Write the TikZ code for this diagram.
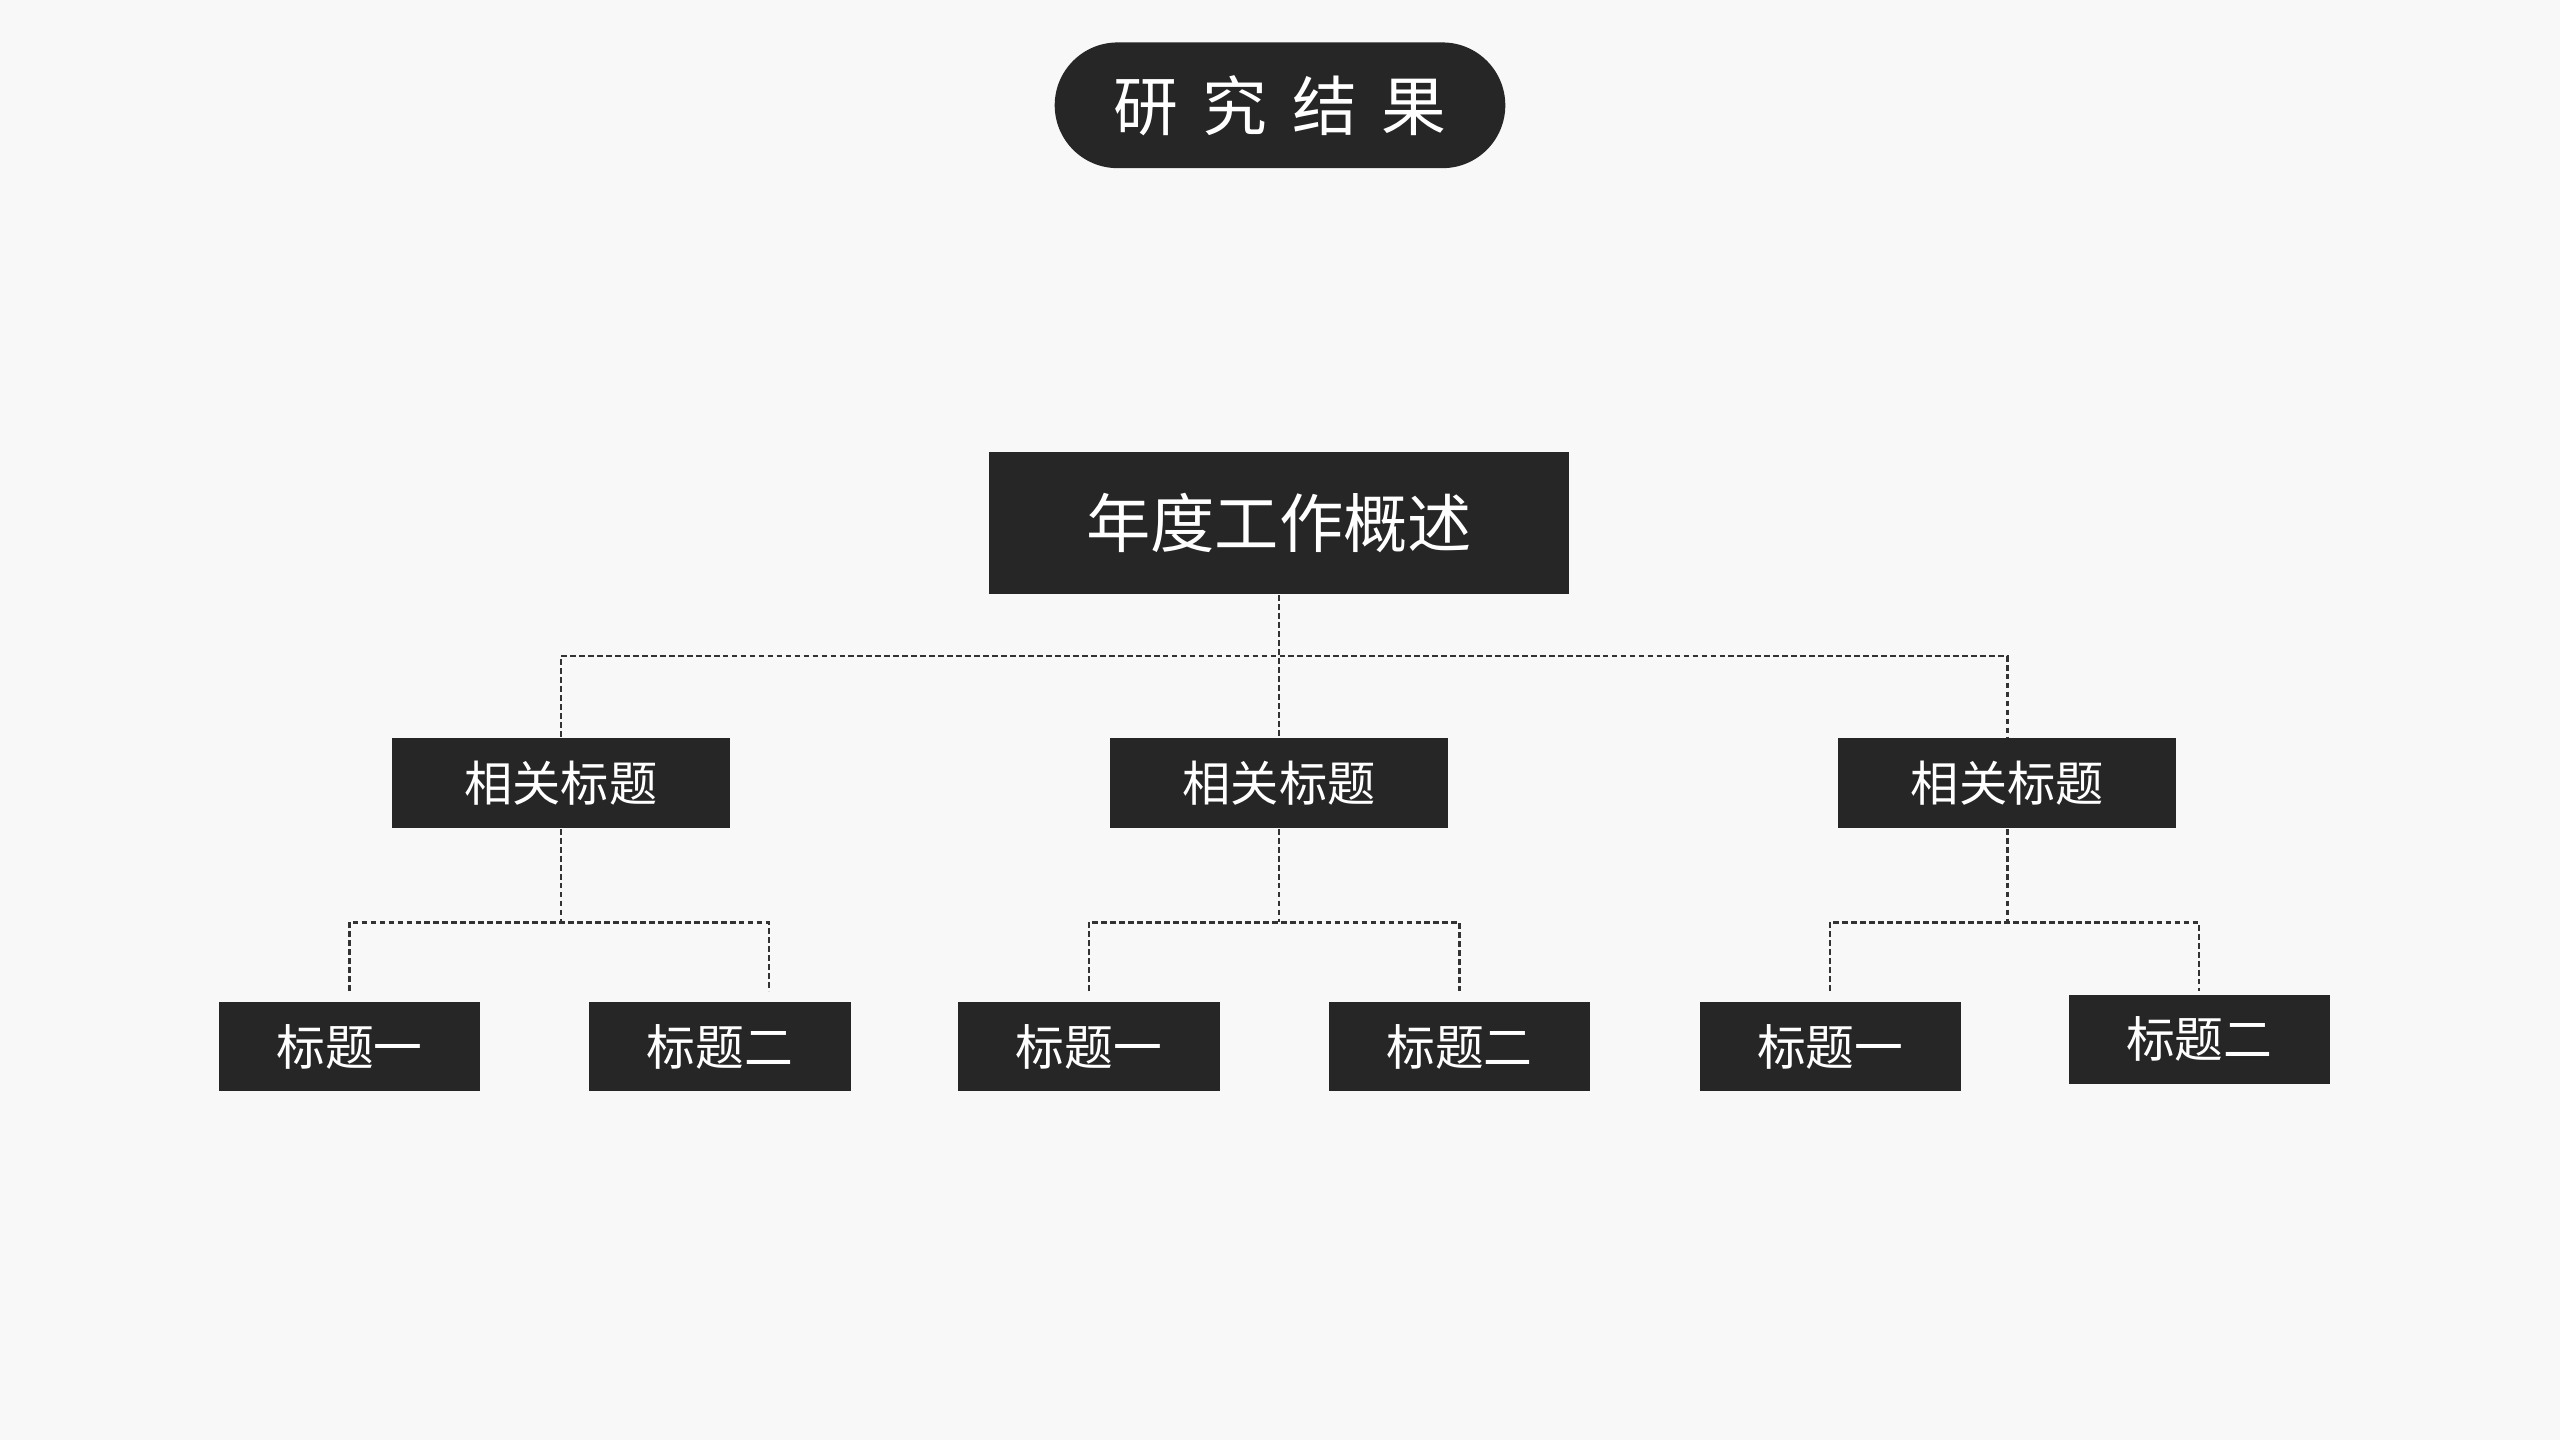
\documentclass[tikz,border=0pt]{standalone}
\usepackage{fontspec}
\newfontfamily\cjk{Noto Sans CJK SC}
\usetikzlibrary{positioning}
\definecolor{boxgray}{HTML}{262626}
\definecolor{bggray}{HTML}{F8F8F8}
\definecolor{linegray}{HTML}{333333}

\begin{document}
\begin{tikzpicture}[
            x=0.1mm,
            y=0.1mm,
            badge/.style={fill=boxgray, text=white, inner sep=0pt, minimum width=27.6mm, minimum height=7.7mm, rounded corners=3.85mm, font=\cjk\fontsize{11.3pt}{13pt}\selectfont},
            topbox/.style={fill=boxgray, text=white, inner sep=0pt, minimum width=35.5mm, minimum height=8.7mm, font=\cjk\fontsize{11.2pt}{13pt}\selectfont},
            midbox/.style={fill=boxgray, text=white, inner sep=0pt, minimum width=20.7mm, minimum height=5.5mm, font=\cjk\fontsize{8.4pt}{10pt}\selectfont},
            leafbox/.style={fill=boxgray, text=white, inner sep=0pt, minimum width=16mm, minimum height=5.45mm, font=\cjk\fontsize{8.5pt}{10pt}\selectfont},
            link/.style={draw=linegray, line width=0.4pt, dash pattern=on 0.35mm off 0.2mm},
        ]
        % page
        \fill[bggray] (0,0) rectangle (1568,882);
        \useasboundingbox (0,0) rectangle (1568,882);
        % heading
        \node[badge] (badge) at (784,817.5) {研\hspace{1.5mm}究\hspace{1.5mm}结\hspace{1.5mm}果};
        % top level
        \node[topbox] (overview) at (783.5,561.5) {年度工作概述};
        % second level
        \node[midbox] (rel1) at (343.5,402.5) {相关标题};
        \node[midbox] (rel2) at (783.5,402.5) {相关标题};
        \node[midbox] (rel3) at (1229.5,402.5) {相关标题};
        % third level
        \node[leafbox] (leaf11) at (214,241) {标题一};
        \node[leafbox] (leaf12) at (441,241) {标题二};
        \node[leafbox] (leaf21) at (667,241) {标题一};
        \node[leafbox] (leaf22) at (894,241) {标题二};
        \node[leafbox] (leaf31) at (1121,241) {标题一};
        \node[leafbox] (leaf32) at (1347,245.5) {标题二};
        % bus heights
        \coordinate (bus) at (0,480);
        \coordinate (bus2) at (0,317);
        \coordinate (drops) at (0,275);
        % free ends above the leaves
        \coordinate (drop11) at (leaf11.north |- drops);
        \coordinate (drop12) at (471,275);
        \coordinate (drop21) at (leaf21.north |- drops);
        \coordinate (drop22) at (leaf22.north |- drops);
        \coordinate (drop31) at (leaf31.north |- drops);
        \coordinate (drop32) at (leaf32.north |- drops);
        % connectors, first tier
        \draw[link] (overview.south) -- (rel2.north);
        \draw[link] (rel1.north) |- (overview.south |- bus) -| (rel3.north);
        % connectors, second tier
        \draw[link] (rel1.south) -- (rel1.south |- bus2);
        \draw[link] (drop11) |- (rel1.south |- bus2) -| (drop12);
        \draw[link] (rel2.south) -- (rel2.south |- bus2);
        \draw[link] (drop21) |- (rel2.south |- bus2) -| (drop22);
        \draw[link] (rel3.south) -- (rel3.south |- bus2);
        \draw[link] (drop31) |- (rel3.south |- bus2) -| (drop32);
        \end{tikzpicture}
\end{document}
